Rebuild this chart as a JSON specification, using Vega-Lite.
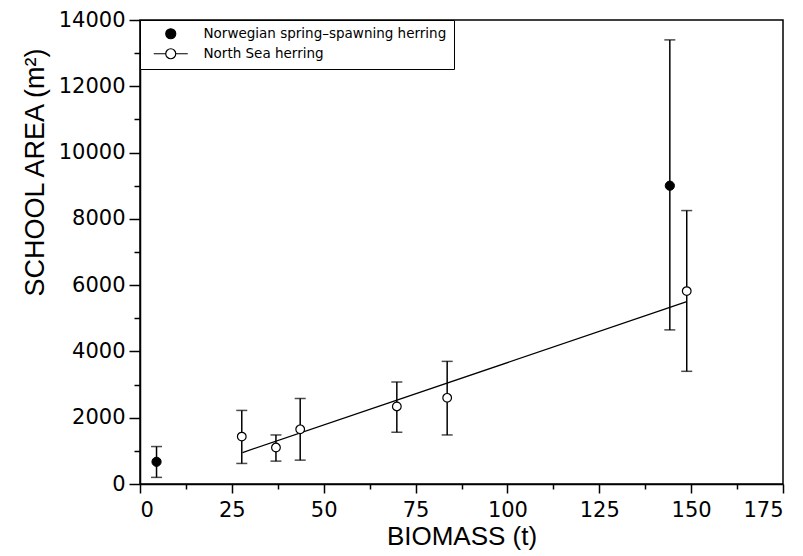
{
  "$schema": "https://vega.github.io/schema/vega-lite/v6.json",
  "width": 643,
  "height": 464,
  "autosize": {"type": "none"},
  "padding": {"left": 140, "top": 20, "right": 20, "bottom": 72},
  "background": "white",
  "config": {
    "view": {"stroke": "black", "strokeWidth": 1.5},
    "axis": {"domainColor": "black", "tickColor": "black", "labelColor": "black", "titleColor": "black", "grid": false, "domainWidth": 1.5, "tickWidth": 1.5}
  },
  "datasets": {
    "pts": [
      {"series": "Norwegian spring–spawning herring", "biomass": 4.5, "area": 670, "lo": 200, "hi": 1130},
      {"series": "Norwegian spring–spawning herring", "biomass": 144.2, "area": 9000, "lo": 4650, "hi": 13400},
      {"series": "North Sea herring", "biomass": 27.7, "area": 1430, "lo": 620, "hi": 2220},
      {"series": "North Sea herring", "biomass": 37.0, "area": 1100, "lo": 690, "hi": 1480},
      {"series": "North Sea herring", "biomass": 43.6, "area": 1650, "lo": 720, "hi": 2580},
      {"series": "North Sea herring", "biomass": 69.9, "area": 2340, "lo": 1560, "hi": 3080},
      {"series": "North Sea herring", "biomass": 83.6, "area": 2600, "lo": 1480, "hi": 3700},
      {"series": "North Sea herring", "biomass": 148.8, "area": 5820, "lo": 3400, "hi": 8250}
    ],
    "fit": [
      {"biomass": 27.9, "area": 950},
      {"biomass": 148.8, "area": 5500}
    ]
  },
  "resolve": {"axis": {"x": "independent", "y": "independent"}},
  "layer": [
    {
      "data": {"name": "pts"},
      "mark": {"type": "rule", "color": "black", "strokeWidth": 1.5},
      "encoding": {
        "x": {"field": "biomass", "type": "quantitative",
          "scale": {"domain": [0, 175], "nice": false, "zero": false},
          "axis": {"orient": "bottom", "values": [0, 25, 50, 75, 100, 125, 150, 175], "tickSize": 9, "labelPadding": 6, "labelFont": "DejaVu Sans", "labelFontSize": 21, "labelFontWeight": "normal", "title": "BIOMASS (t)", "titleFont": "Liberation Sans", "titleFontSize": 26, "titleFontWeight": "normal", "titlePadding": 3}},
        "y": {"field": "lo", "type": "quantitative",
          "scale": {"domain": [0, 14000], "nice": false, "zero": false},
          "axis": {"orient": "left", "values": [0, 2000, 4000, 6000, 8000, 10000, 12000, 14000], "format": "d", "tickSize": 11, "labelPadding": 4, "labelFont": "DejaVu Sans", "labelFontSize": 21, "title": "SCHOOL AREA (m²)", "titleFont": "Liberation Sans", "titleFontSize": 27, "titleFontWeight": "normal", "titlePadding": 9, "titleY": 152}},
        "y2": {"field": "hi"}
      }
    },
    {
      "data": {"name": "pts"},
      "mark": {"type": "tick", "orient": "horizontal", "color": "black", "size": 11, "thickness": 1.5},
      "encoding": {
        "x": {"field": "biomass", "type": "quantitative", "axis": null},
        "y": {"field": "lo", "type": "quantitative", "axis": null}
      }
    },
    {
      "data": {"name": "pts"},
      "mark": {"type": "tick", "orient": "horizontal", "color": "black", "size": 11, "thickness": 1.5},
      "encoding": {
        "x": {"field": "biomass", "type": "quantitative", "axis": null},
        "y": {"field": "hi", "type": "quantitative", "axis": null}
      }
    },
    {
      "data": {"name": "fit"},
      "mark": {"type": "line", "color": "black", "strokeWidth": 1.3},
      "encoding": {
        "x": {"field": "biomass", "type": "quantitative", "axis": null},
        "y": {"field": "area", "type": "quantitative", "axis": null}
      }
    },
    {
      "data": {"name": "pts"},
      "transform": [{"filter": "datum.series === 'North Sea herring'"}],
      "mark": {"type": "point", "shape": "circle", "filled": true, "fill": "white", "stroke": "black", "strokeWidth": 1.2, "size": 75, "opacity": 1},
      "encoding": {
        "x": {"field": "biomass", "type": "quantitative", "axis": null},
        "y": {"field": "area", "type": "quantitative", "axis": null}
      }
    },
    {
      "data": {"name": "pts"},
      "transform": [{"filter": "datum.series !== 'North Sea herring'"}],
      "mark": {"type": "point", "shape": "circle", "filled": true, "fill": "black", "stroke": "black", "strokeWidth": 1, "size": 85, "opacity": 1},
      "encoding": {
        "x": {"field": "biomass", "type": "quantitative", "axis": null},
        "y": {"field": "area", "type": "quantitative", "axis": null}
      }
    },
    {
      "data": {"name": "pts"},
      "mark": {"type": "point", "filled": true, "strokeWidth": 1.2, "size": 150, "opacity": 0},
      "encoding": {
        "x": {"field": "biomass", "type": "quantitative", "axis": null},
        "y": {"field": "area", "type": "quantitative", "axis": null},
        "shape": {"field": "series", "type": "nominal",
          "scale": {"domain": ["Norwegian spring–spawning herring", "North Sea herring"], "range": ["circle", "M-3.4,0L-1,0M1,0L3.4,0M-1,0A1,1 0 1,0 1,0A1,1 0 1,0 -1,0Z"]},
          "legend": {"orient": "top-left", "offset": 0, "title": null, "symbolOpacity": 1, "symbolStrokeWidth": 1.2, "strokeColor": "black", "fillColor": "white", "padding": 7, "symbolOffset": 17, "labelOffset": 26, "rowPadding": 4, "labelFont": "DejaVu Sans", "labelFontSize": 13.5, "labelColor": "black", "labelLimit": 400}},
        "fill": {"field": "series", "type": "nominal",
          "scale": {"domain": ["Norwegian spring–spawning herring", "North Sea herring"], "range": ["black", "white"]},
          "legend": {"orient": "top-left", "offset": 0, "title": null, "symbolOpacity": 1, "symbolStrokeWidth": 1.2, "strokeColor": "black", "fillColor": "white", "padding": 7, "symbolOffset": 17, "labelOffset": 26, "rowPadding": 4, "labelFont": "DejaVu Sans", "labelFontSize": 13.5, "labelColor": "black", "labelLimit": 400}},
        "stroke": {"field": "series", "type": "nominal",
          "scale": {"domain": ["Norwegian spring–spawning herring", "North Sea herring"], "range": ["black", "black"]},
          "legend": {"orient": "top-left", "offset": 0, "title": null, "symbolOpacity": 1, "symbolStrokeWidth": 1.2, "strokeColor": "black", "fillColor": "white", "padding": 7, "symbolOffset": 17, "labelOffset": 26, "rowPadding": 4, "labelFont": "DejaVu Sans", "labelFontSize": 13.5, "labelColor": "black", "labelLimit": 400}}
      }
    },
    {
      "data": {"name": "pts"},
      "mark": {"type": "point", "opacity": 0},
      "encoding": {
        "x": {"field": "biomass", "type": "quantitative",
          "axis": {"orient": "bottom", "values": [12.5, 37.5, 62.5, 87.5, 112.5, 137.5, 162.5], "tickSize": 5, "labels": false, "domain": false, "title": null}},
        "y": {"field": "area", "type": "quantitative",
          "axis": {"orient": "left", "values": [1000, 3000, 5000, 7000, 9000, 11000, 13000], "tickSize": 6, "labels": false, "domain": false, "title": null}}
      }
    }
  ]
}
